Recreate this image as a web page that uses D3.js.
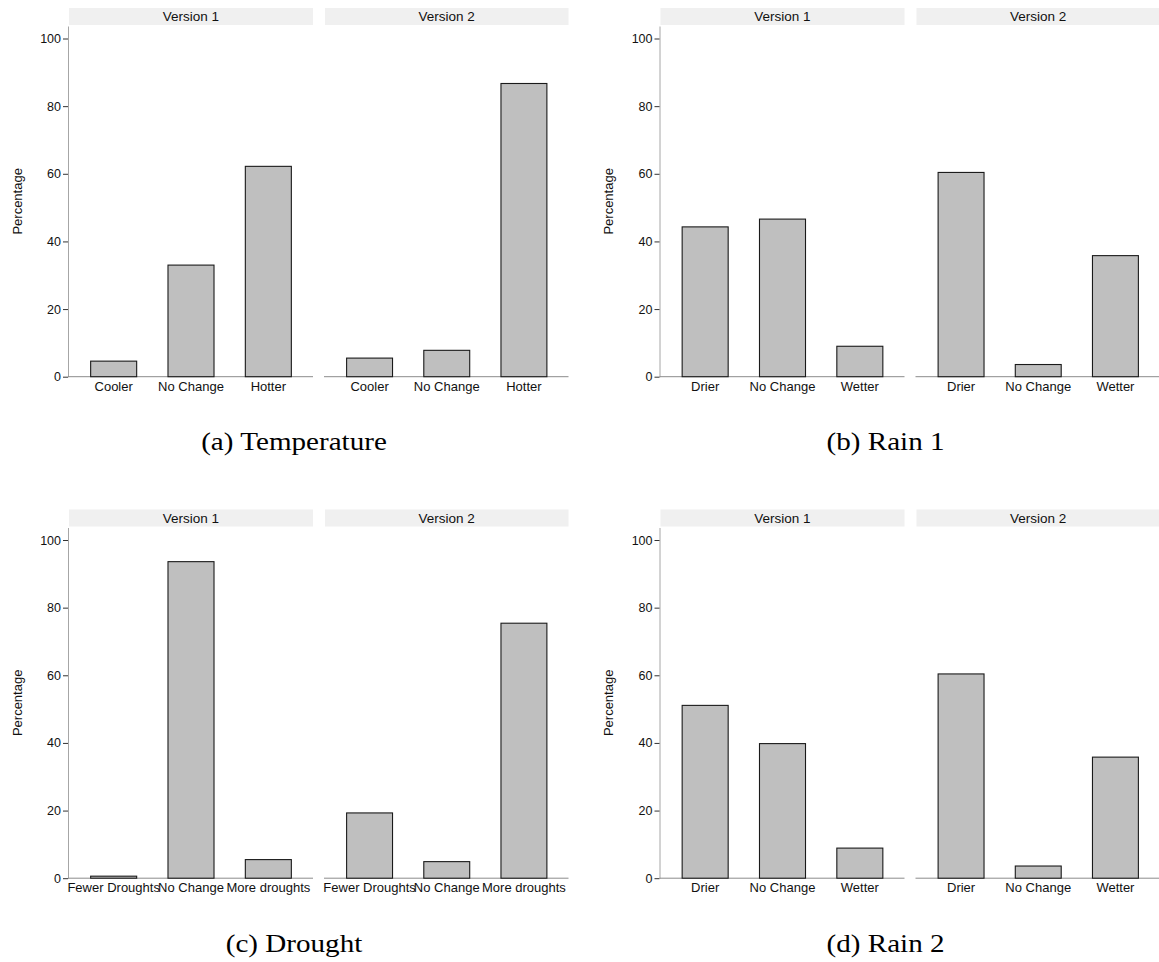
<!DOCTYPE html>
<html>
<head>
<meta charset="utf-8">
<script src="https://cdn.jsdelivr.net/npm/d3@7"></script>
<style>
    body { margin: 0; background: #fff; }
    svg { display: block; }
</style>
</head>
<body>
<div id="chart"></div>
<script>
const versions = ["Version 1", "Version 2"]
const yTicks = [0, 20, 40, 60, 80, 100]

const tempCats = ["Cooler", "No Change", "Hotter"]
const tempV1 = [4.6, 33.0, 62.2]
const tempV2 = [5.5, 7.8, 86.7]

const rainCats = ["Drier", "No Change", "Wetter"]
const rain1V1 = [44.3, 46.6, 9.0]
const rain1V2 = [60.4, 3.6, 35.8]

const droughtCats = ["Fewer Droughts", "No Change", "More droughts"]
const droughtV1 = [0.6, 93.6, 5.5]
const droughtV2 = [19.3, 4.9, 75.4]

const rain2V1 = [51.1, 39.8, 8.9]
const rain2V2 = [60.4, 3.6, 35.8]

const captions = ["(a) Temperature", "(b) Rain 1", "(c) Drought", "(d) Rain 2"]

// one entry per sub-figure: categories + the two version series
const figures = [
    { cats: tempCats, series: [tempV1, tempV2] },
    { cats: rainCats, series: [rain1V1, rain1V2] },
    { cats: droughtCats, series: [droughtV1, droughtV2] },
    { cats: rainCats, series: [rain2V1, rain2V2] }
]

const width = 1159, height = 962
const colOffset = [0, 591.5]
const rowOffset = [0, 501.5]
const axisX = 68
const panelX = [[69, 313], [325, 568.5]]
const stripTop = 8, stripBottom = 25
const plotTop = 26, plotBottom = 376.7
const sans = "'Liberation Sans', Arial, Helvetica, sans-serif"

const svg = d3.select("#chart").append("svg")
    .attr("width", width)
    .attr("height", height)

const y = d3.scaleLinear()
    .domain([0, 103.7])
    .range([plotBottom, plotTop])

figures.forEach((fig, i) => {
    const g = svg.append("g")
        .attr("transform", `translate(${colOffset[i % 2]},${rowOffset[Math.floor(i / 2)]})`)

    // y axis
    const yAxis = g.append("g")
        .attr("transform", `translate(${axisX},0)`)
        .call(d3.axisLeft(y).tickValues(yTicks).tickSize(5).tickSizeOuter(0).tickPadding(2))
    yAxis.select(".domain").attr("stroke", "#a6a6a6")
    yAxis.selectAll(".tick line").attr("stroke", "#333")
    yAxis.selectAll(".tick text")
        .attr("font-family", sans)
        .attr("font-size", 12.5)
        .attr("fill", "#111")

    g.append("text")
        .attr("transform", `translate(17,${(plotTop + plotBottom) / 2}) rotate(-90)`)
        .attr("text-anchor", "middle")
        .attr("dy", "0.35em")
        .attr("font-family", sans)
        .attr("font-size", 13)
        .attr("fill", "#111")
        .text("Percentage")

    versions.forEach((v, j) => {
        const [x0, x1] = panelX[j]
        const x = d3.scaleBand()
            .domain(fig.cats)
            .range([x0, x1])
            .paddingInner(0.405)
            .paddingOuter(0.28)

        // strip
        g.append("rect")
            .attr("x", x0)
            .attr("y", stripTop)
            .attr("width", x1 - x0)
            .attr("height", stripBottom - stripTop)
            .attr("fill", "#f0f0f0")
        g.append("text")
            .attr("x", (x0 + x1) / 2)
            .attr("y", (stripTop + stripBottom) / 2)
            .attr("dy", "0.36em")
            .attr("text-anchor", "middle")
            .attr("font-family", sans)
            .attr("font-size", 13.5)
            .attr("fill", "#111")
            .text(v)

        // baseline
        g.append("line")
            .attr("x1", x0 - 1)
            .attr("x2", x1)
            .attr("y1", y(0))
            .attr("y2", y(0))
            .attr("stroke", "#8c8c8c")

        g.selectAll(null)
            .data(fig.series[j])
            .join("rect")
            .attr("x", (d, k) => x(fig.cats[k]))
            .attr("y", d => y(d))
            .attr("width", x.bandwidth())
            .attr("height", d => y(0) - y(d))
            .attr("fill", "#bfbfbf")
            .attr("stroke", "#1a1a1a")
            .attr("stroke-width", 1.1)

        const xAxis = g.append("g")
            .attr("transform", `translate(0,${y(0)})`)
            .call(d3.axisBottom(x).tickSize(0).tickPadding(5))
        xAxis.select(".domain").remove()
        xAxis.selectAll(".tick text")
            .attr("font-family", sans)
            .attr("font-size", 13)
            .attr("fill", "#111")
    })

    // caption, stretched a little to get the width of the LaTeX serif
    g.append("text")
        .attr("transform", "translate(294,450) scale(1.12,1)")
        .attr("text-anchor", "middle")
        .attr("font-family", "'Liberation Serif', 'Times New Roman', serif")
        .attr("font-size", 26)
        .attr("fill", "#000")
        .text(captions[i])
})
</script>
</body>
</html>
